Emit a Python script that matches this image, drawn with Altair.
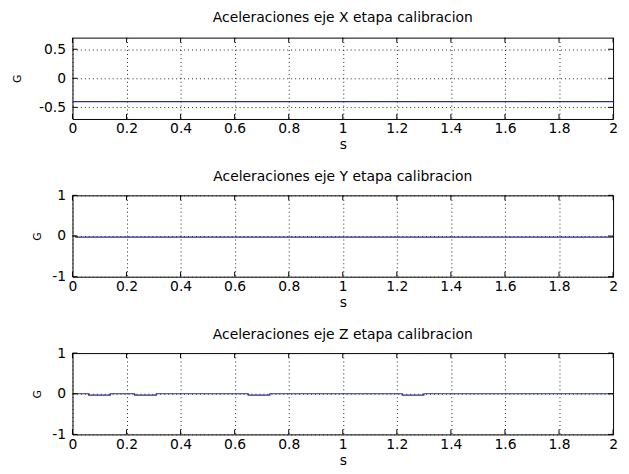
import altair as alt
import pandas as pd

# ---- data ----
x_ticks = [0, 0.2, 0.4, 0.6, 0.8, 1, 1.2, 1.4, 1.6, 1.8, 2]
y_ticks_x = [-0.5, 0, 0.5]
y_ticks_yz = [-1, 0, 1]

# X axis acceleration (G)
t_x = [0.0, 2.0]
acc_x = [-0.4, -0.4]

# Y axis acceleration (G)
t_y = [0.0, 0.012, 0.012, 2.0]
acc_y = [0.0, 0.0, -0.025, -0.025]

# Z axis acceleration (G)
t_z = [0.0, 0.06, 0.06, 0.14, 0.14, 0.23, 0.23, 0.31, 0.31,
       0.65, 0.65, 0.73, 0.73, 1.22, 1.22, 1.30, 1.30, 2.0]
acc_z = [0.0, 0.0, -0.035, -0.035, 0.0, 0.0, -0.035, -0.035, 0.0,
         0.0, -0.035, -0.035, 0.0, 0.0, -0.035, -0.035, 0.0, 0.0]

titles = [
    "Aceleraciones eje X etapa calibracion",
    "Aceleraciones eje Y etapa calibracion",
    "Aceleraciones eje Z etapa calibracion",
]

W, H = 545, 82
LINE = "#2e2e8c"
FONT = "DejaVu Sans"
TICK = 5
LABEL_FIX = "replace(datum.label, '\u2212', '-')"


def panel(t, v, title, ydom, yticks, ytitle_pad, title_offset):
    df = pd.DataFrame({"t": t, "v": v, "i": list(range(len(t)))})
    xs = alt.Scale(domain=[0, 2], nice=False, zero=False)
    ys = alt.Scale(domain=ydom, nice=False, zero=False)

    x_axis = alt.Axis(
        values=x_ticks, format="~g", title="s", grid=True,
        gridColor="#222", gridDash=[1, 3], gridWidth=1,
        tickSize=0, domain=False, labelPadding=3, titlePadding=2,
        labelFont=FONT, labelFontSize=14, titleFont=FONT, titleFontSize=14,
        titleFontWeight="normal", labelColor="black", titleColor="black",
        labelExpr=LABEL_FIX, labelFlush=False, labelOverlap=False,
    )
    y_axis = alt.Axis(
        values=yticks, format="~g", title="G", grid=True,
        gridColor="#222", gridDash=[1, 3], gridWidth=1,
        tickSize=0, domain=False, labelPadding=7, titlePadding=ytitle_pad,
        labelFont=FONT, labelFontSize=14, titleFont=FONT, titleFontSize=11,
        titleFontWeight="normal", labelColor="black", titleColor="black",
        labelExpr=LABEL_FIX, labelFlush=False, labelOverlap=False,
    )

    line = alt.Chart(df).mark_line(color=LINE, strokeWidth=1.2, clip=True).encode(
        x=alt.X("t:Q", scale=xs, axis=x_axis),
        y=alt.Y("v:Q", scale=ys, axis=y_axis),
        order="i:Q",
    )

    xt = pd.DataFrame({"t": x_ticks})
    yt = pd.DataFrame({"v": yticks})
    xb = alt.Chart(xt).mark_rule(color="black", strokeWidth=1).encode(
        x=alt.X("t:Q", scale=xs, axis=x_axis),
        y=alt.value(H), y2=alt.value(H - TICK))
    xtop = alt.Chart(xt).mark_rule(color="black", strokeWidth=1).encode(
        x=alt.X("t:Q", scale=xs, axis=x_axis),
        y=alt.value(0), y2=alt.value(TICK))
    yl = alt.Chart(yt).mark_rule(color="black", strokeWidth=1).encode(
        y=alt.Y("v:Q", scale=ys, axis=y_axis),
        x=alt.value(0), x2=alt.value(TICK))
    yr = alt.Chart(yt).mark_rule(color="black", strokeWidth=1).encode(
        y=alt.Y("v:Q", scale=ys, axis=y_axis),
        x=alt.value(W), x2=alt.value(W - TICK))

    return alt.layer(line, xb, xtop, yl, yr).properties(
        width=W, height=H,
        title=alt.TitleParams(
            text=title, font=FONT, fontSize=14, fontWeight="normal",
            color="black", anchor="middle", frame="group",
            baseline="alphabetic", offset=title_offset,
        ),
    )


p1 = panel(t_x, acc_x, titles[0], [-0.7, 0.7], y_ticks_x, 16, 1)
p2 = panel(t_y, acc_y, titles[1], [-1, 1], y_ticks_yz, 9, -7)
p3 = panel(t_z, acc_z, titles[2], [-1, 1], y_ticks_yz, 9, -7)

chart = alt.vconcat(p1, p2, p3, spacing=77, bounds="flush").properties(
    padding={"left": 3, "top": 1, "right": 3, "bottom": 0},
    background="white",
).configure_view(stroke="black", strokeWidth=1)

chart.save("out.html", embed_options={"renderer": "svg", "actions": False})
